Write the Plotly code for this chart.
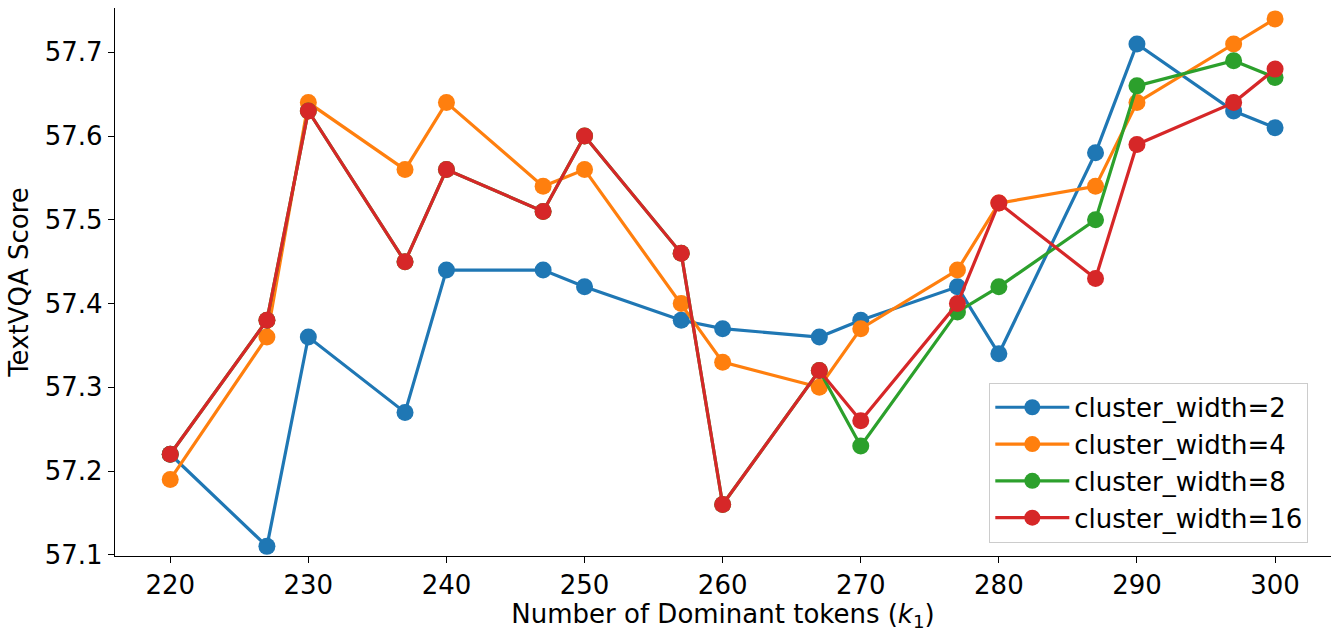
import plotly.graph_objects as go

x_tokens = [220, 227, 230, 237, 240, 247, 250, 257, 260, 267, 270, 277, 280, 287, 290, 297, 300]

cw2 = [57.22, 57.11, 57.36, 57.27, 57.44, 57.44, 57.42, 57.38, 57.37, 57.36, 57.38, 57.42, 57.34, 57.58, 57.71, 57.63, 57.61]
cw4 = [57.19, 57.36, 57.64, 57.56, 57.64, 57.54, 57.56, 57.40, 57.33, 57.30, 57.37, 57.44, 57.52, 57.54, 57.64, 57.71, 57.74]
cw8 = [57.22, 57.38, 57.63, 57.45, 57.56, 57.51, 57.60, 57.46, 57.16, 57.32, 57.23, 57.39, 57.42, 57.50, 57.66, 57.69, 57.67]
cw16 = [57.22, 57.38, 57.63, 57.45, 57.56, 57.51, 57.60, 57.46, 57.16, 57.32, 57.26, 57.40, 57.52, 57.43, 57.59, 57.64, 57.68]

series_names = ["cluster_width=2", "cluster_width=4", "cluster_width=8", "cluster_width=16"]
series_values = [cw2, cw4, cw8, cw16]
colors = ["#1f77b4", "#ff7f0e", "#2ca02c", "#d62728"]

x_ticks = [220, 230, 240, 250, 260, 270, 280, 290, 300]
y_ticks = [57.1, 57.2, 57.3, 57.4, 57.5, 57.6, 57.7]

FONT = "DejaVu Sans"
FS = 26

fig = go.Figure()
for name, vals, col in zip(series_names, series_values, colors):
    fig.add_trace(go.Scatter(
        x=x_tokens, y=vals, name=name, mode="lines+markers",
        line=dict(color=col, width=3.2),
        marker=dict(color=col, size=17),
    ))

fig.update_layout(
    width=1338, height=632,
    margin=dict(l=115, r=7, t=8, b=74),
    paper_bgcolor="white", plot_bgcolor="white",
    font=dict(family=FONT, size=FS, color="black"),
    showlegend=True,
    legend=dict(
        x=0.719, y=0.024, xanchor="left", yanchor="bottom",
        bgcolor="rgba(255,255,255,0.8)", bordercolor="#cccccc", borderwidth=1,
        font=dict(family=FONT, size=FS, color="black"),
        itemwidth=74,
    ),
)

fig.update_xaxes(
    range=[216, 304.05],
    tickvals=x_ticks,
    showgrid=False, zeroline=False,
    showline=True, linecolor="black", linewidth=1.3,
    ticks="outside", ticklen=6, tickwidth=1.3, tickcolor="black",
    tickfont=dict(family=FONT, size=FS, color="black"),
    title=dict(text="Number of Dominant tokens (<i>k</i><sub>1</sub>)",
               font=dict(family=FONT, size=FS, color="black"), standoff=6),
)
fig.update_yaxes(
    range=[57.0985, 57.753],
    tickvals=y_ticks, tickformat=".1f",
    showgrid=False, zeroline=False,
    showline=True, linecolor="black", linewidth=1.3,
    ticks="outside", ticklen=6, tickwidth=1.3, tickcolor="black",
    tickfont=dict(family=FONT, size=FS, color="black"),
    title=dict(text="TextVQA Score", font=dict(family=FONT, size=FS, color="black"), standoff=8),
)

fig.write_html("out.html")
